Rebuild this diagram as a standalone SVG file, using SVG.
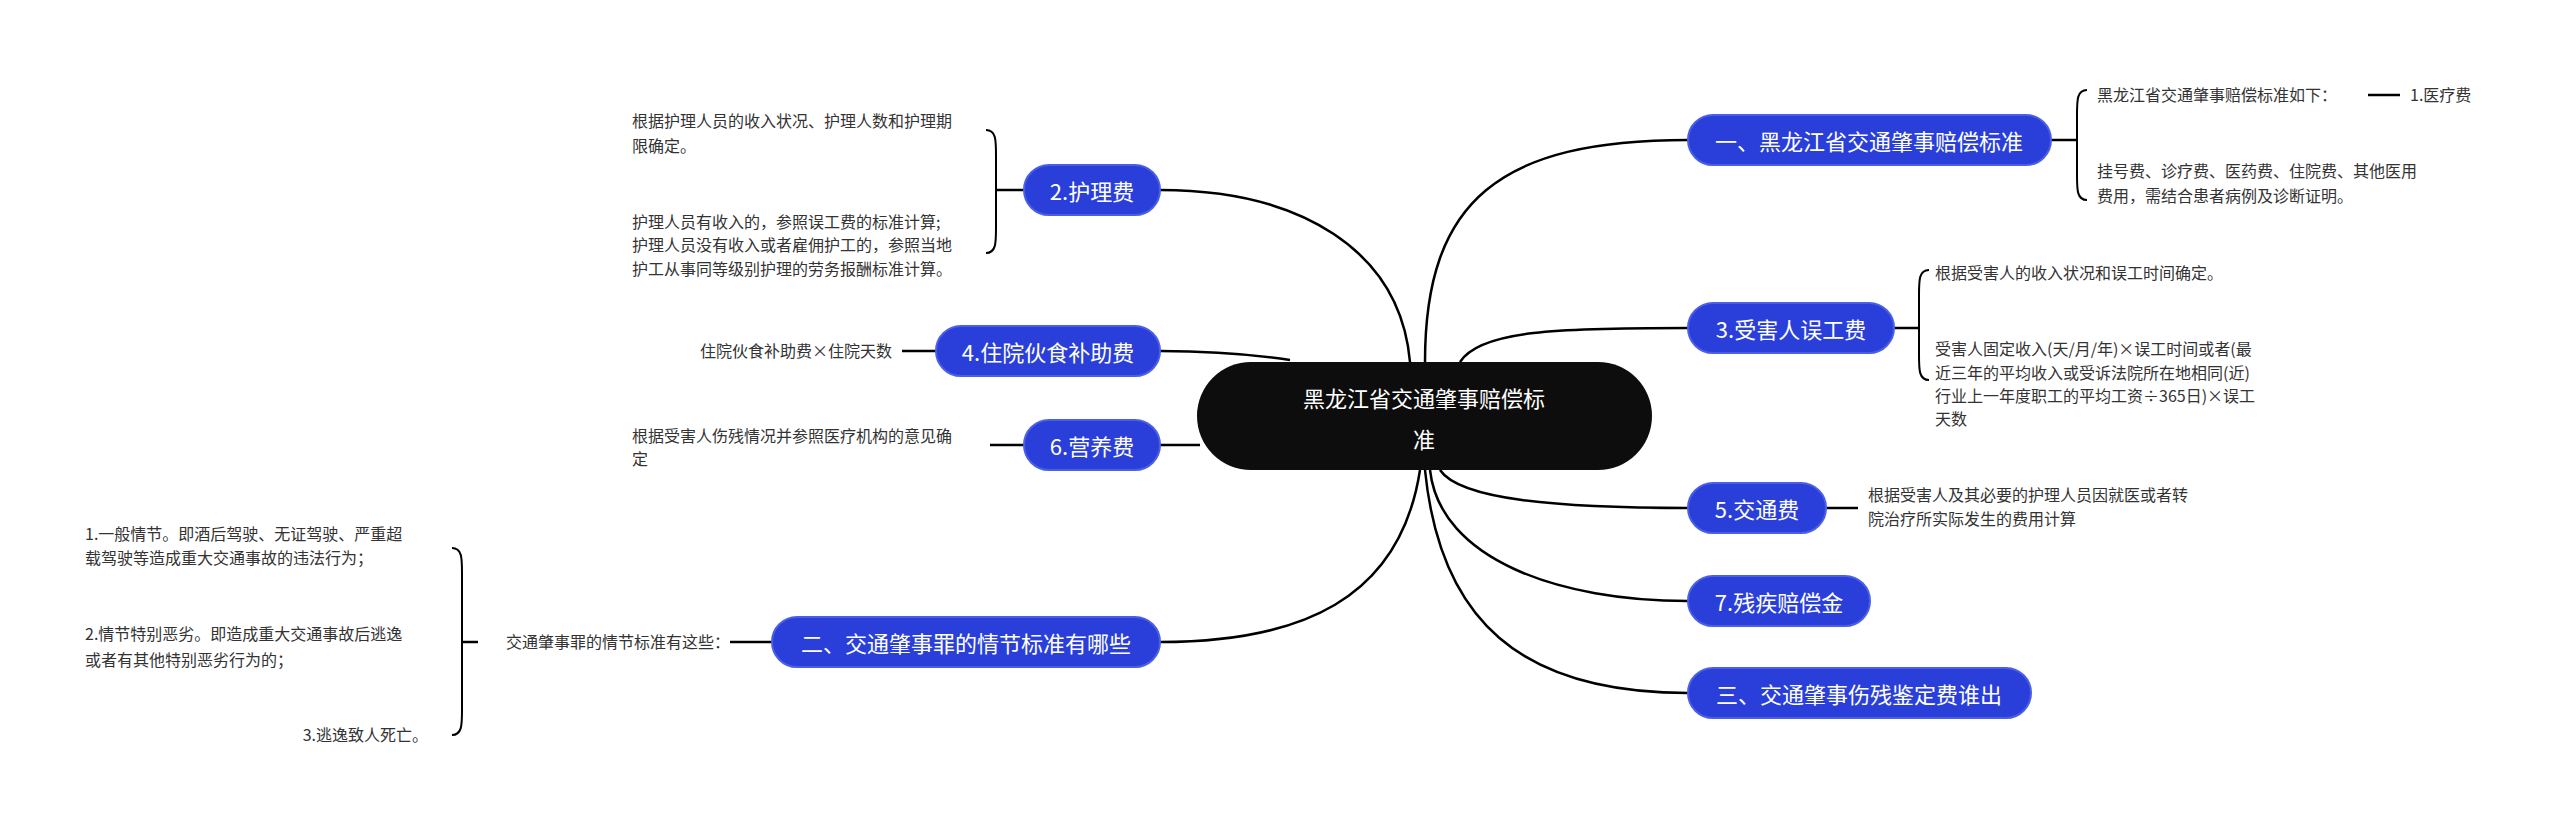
<svg xmlns="http://www.w3.org/2000/svg" width="2560" height="831" viewBox="0 0 2560 831">
<style>
.n{fill:#2a3fd9;stroke:#4a5ee8;stroke-width:2}
.nt{fill:#fff;font-family:"Noto Sans CJK SC","Noto Sans",sans-serif;font-size:22px;text-anchor:middle;dominant-baseline:central}
.l{fill:#333;font-family:"Noto Sans CJK SC","Noto Sans",sans-serif;font-size:16px}
.c{fill:none;stroke:#000;stroke-width:2.5}
.b{fill:none;stroke:#000;stroke-width:2}
</style>
<rect width="2560" height="831" fill="#fff"/>
<g id="connectors">
<path class="c" d="M1425 362 C1425 200 1500 140 1688 140"/>
<path class="c" d="M1460 362 C1480 330 1560 328 1688 328"/>
<path class="c" d="M1440 470 C1460 500 1560 508 1688 508"/>
<path class="c" d="M1430 470 C1440 560 1560 601 1688 601"/>
<path class="c" d="M1425 470 C1440 620 1520 693 1688 693"/>
<path class="c" d="M1410 362 C1400 250 1300 190 1160 190"/>
<path class="c" d="M1290 360 C1250 354 1200 351 1160 351"/>
<path class="c" d="M1200 445 L1160 445"/>
<path class="c" d="M1420 470 C1400 600 1300 642 1160 642"/>
<path class="c" d="M2051 140 L2077 140"/>
<path class="b" d="M2087 90 C2077 90 2077 100 2077 115 L2077 175 C2077 190 2077 200 2087 200"/>
<path class="c" d="M2368 95 L2400 95"/>
<path class="c" d="M1894 328 L1919 328"/>
<path class="b" d="M1929 270 C1919 270 1919 280 1919 295 L1919 355 C1919 370 1919 380 1929 380"/>
<path class="c" d="M1826 508 L1858 508"/>
<path class="c" d="M1024 190 L996 190"/>
<path class="b" d="M986 130 C996 130 996 140 996 155 L996 228 C996 243 996 253 986 253"/>
<path class="c" d="M936 351 L902 351"/>
<path class="c" d="M1024 445 L990 445"/>
<path class="c" d="M772 642 L740 642"/>
<path class="c" d="M730 642 L740 642"/>
<path class="b" d="M452 548 C462 548 462 558 462 573 L462 710 C462 725 462 735 452 735"/>
<path class="c" d="M462 642 L478 642"/>
</g>
<g id="center"><rect x="1197" y="362" width="455" height="108" rx="54" fill="#0d0d0d"/>
<text x="1424" y="397" class="nt" font-size="29">黑龙江省交通肇事赔偿标</text><text x="1424" y="438" class="nt" font-size="29">准</text></g>
<g id="n1"><rect class="n" x="1688" y="115" width="363" height="50" rx="25"/><text class="nt" x="1869" y="140">一、黑龙江省交通肇事赔偿标准</text></g>
<g id="n3"><rect class="n" x="1688" y="303" width="206" height="50" rx="25"/><text class="nt" x="1791" y="328">3.受害人误工费</text></g>
<g id="n5"><rect class="n" x="1688" y="483" width="138" height="50" rx="25"/><text class="nt" x="1757" y="508">5.交通费</text></g>
<g id="n7"><rect class="n" x="1688" y="576" width="182" height="50" rx="25"/><text class="nt" x="1779" y="601">7.残疾赔偿金</text></g>
<g id="n8"><rect class="n" x="1688" y="668" width="343" height="50" rx="25"/><text class="nt" x="1859" y="693">三、交通肇事伤残鉴定费谁出</text></g>
<g id="n2"><rect class="n" x="1024" y="165" width="136" height="50" rx="25"/><text class="nt" x="1092" y="190">2.护理费</text></g>
<g id="n4"><rect class="n" x="936" y="326" width="224" height="50" rx="25"/><text class="nt" x="1048" y="351">4.住院伙食补助费</text></g>
<g id="n6"><rect class="n" x="1024" y="420" width="136" height="50" rx="25"/><text class="nt" x="1092" y="445">6.营养费</text></g>
<g id="n9"><rect class="n" x="772" y="617" width="388" height="50" rx="25"/><text class="nt" x="966" y="642">二、交通肇事罪的情节标准有哪些</text></g>
<g id="leaves">
<text class="l" x="2097" y="101">黑龙江省交通肇事赔偿标准如下：</text>
<text class="l" x="2410" y="101">1.医疗费</text>
<text class="l" x="2097" y="177">挂号费、诊疗费、医药费、住院费、其他医用</text>
<text class="l" x="2097" y="202">费用，需结合患者病例及诊断证明。</text>
<text class="l" x="1935" y="279">根据受害人的收入状况和误工时间确定。</text>
<text class="l" x="1935" y="355">受害人固定收入(天/月/年)×误工时间或者(最</text>
<text class="l" x="1935" y="379">近三年的平均收入或受诉法院所在地相同(近)</text>
<text class="l" x="1935" y="402">行业上一年度职工的平均工资÷365日)×误工</text>
<text class="l" x="1935" y="425">天数</text>
<text class="l" x="1868" y="501">根据受害人及其必要的护理人员因就医或者转</text>
<text class="l" x="1868" y="525">院治疗所实际发生的费用计算</text>
<text class="l" x="632" y="127">根据护理人员的收入状况、护理人数和护理期</text>
<text class="l" x="632" y="152">限确定。</text>
<text class="l" x="632" y="228">护理人员有收入的，参照误工费的标准计算;</text>
<text class="l" x="632" y="251">护理人员没有收入或者雇佣护工的，参照当地</text>
<text class="l" x="632" y="275">护工从事同等级别护理的劳务报酬标准计算。</text>
<text class="l" x="892" y="357" text-anchor="end">住院伙食补助费×住院天数</text>
<text class="l" x="632" y="442">根据受害人伤残情况并参照医疗机构的意见确</text>
<text class="l" x="632" y="465">定</text>
<text class="l" x="730" y="648" text-anchor="end">交通肇事罪的情节标准有这些：</text>
<text class="l" x="85" y="540">1.一般情节。即酒后驾驶、无证驾驶、严重超</text>
<text class="l" x="85" y="564">载驾驶等造成重大交通事故的违法行为；</text>
<text class="l" x="85" y="640">2.情节特别恶劣。即造成重大交通事故后逃逸</text>
<text class="l" x="85" y="666">或者有其他特别恶劣行为的；</text>
<text class="l" x="428" y="741" text-anchor="end">3.逃逸致人死亡。</text>
</g>
</svg>
